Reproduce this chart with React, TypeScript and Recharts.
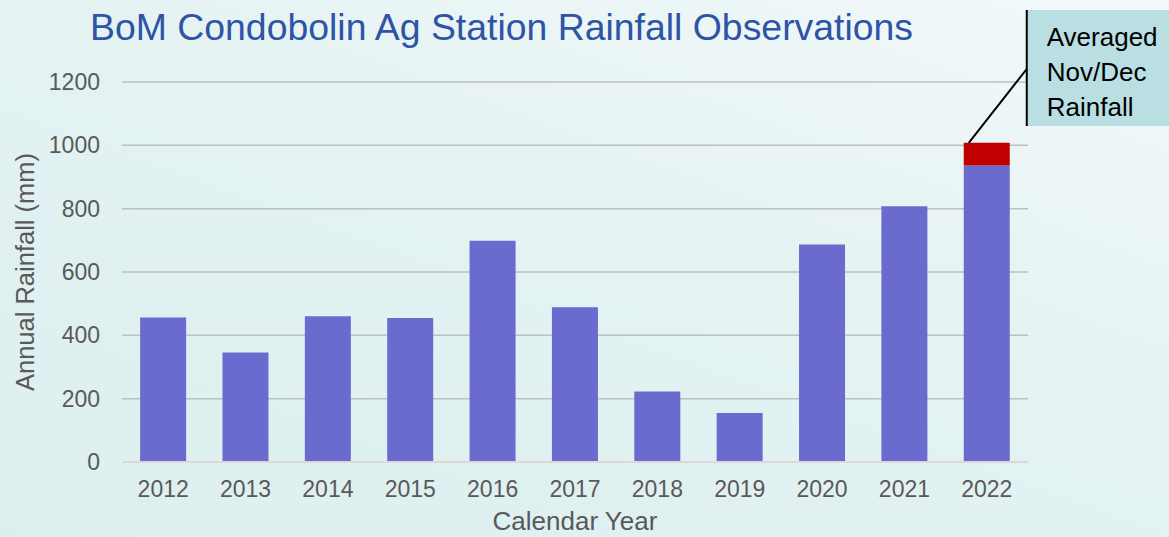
import { BarChart, Bar, XAxis, YAxis, CartesianGrid, Rectangle } from "recharts";

const years = ["2012", "2013", "2014", "2015", "2016", "2017", "2018", "2019", "2020", "2021", "2022"];
const annualRain = [456, 346, 460, 455, 699, 489, 223, 155, 687, 808, 936];
const novDecAvg = [0, 0, 0, 0, 0, 0, 0, 0, 0, 0, 72];
const yTicks = [0, 200, 400, 600, 800, 1000, 1200];
const calloutLines = ["Averaged", "Nov/Dec", "Rainfall"];

const data = years.map((year, i) => ({ year, rain: annualRain[i], extra: novDecAvg[i] }));

const FONT = "'Liberation Sans', Arial, sans-serif";
const GREY = "#595959";

function YLabel(props: any) {
  const vb = props.viewBox || {};
  const cy = vb.y + vb.height / 2;
  return (
    <text
      x={25}
      y={cy}
      transform={`rotate(-90, 25, ${cy})`}
      textAnchor="middle"
      dominantBaseline="central"
      fill={GREY}
      fontSize={25.5}
      fontFamily={FONT}
    >
      Annual Rainfall (mm)
    </text>
  );
}

// red segment, plus the callout box hooked onto it
function ExtraShape(props: any) {
  const { x, y, width, height } = props;
  if (!height || height <= 0) return null;
  const bx = x + width + 17;
  const by = 10;
  return (
    <g>
      <Rectangle x={x} y={y} width={width} height={height} fill="#c00000" />
      <rect x={bx} y={by} width={150} height={116} fill="#b9dfe2" />
      <line x1={bx} y1={by} x2={bx} y2={by + 116} stroke="#000" strokeWidth={2} />
      <line x1={x + 5} y1={y} x2={bx} y2={69} stroke="#000" strokeWidth={2} />
      {calloutLines.map((t, i) => (
        <text key={t} x={bx + 20} y={by + 36 + i * 35} fontSize={26} fontFamily={FONT} fill="#000">
          {t}
        </text>
      ))}
    </g>
  );
}

export default function App() {
  return (
    <div
      style={{
        position: "absolute",
        left: 0,
        top: 0,
        width: 1169,
        height: 537,
        overflow: "hidden",
        background: "linear-gradient(200deg, #f3f9fa 0%, #e4f2f2 45%, #dcefef 100%)",
        fontFamily: FONT,
      }}
    >
      <div
        style={{
          position: "absolute",
          left: 90,
          top: 9,
          fontSize: 37.4,
          lineHeight: "37px",
          color: "#2e54a5",
          whiteSpace: "nowrap",
        }}
      >
        BoM Condobolin Ag Station Rainfall Observations
      </div>
      <BarChart
        width={1169}
        height={537}
        data={data}
        margin={{ top: 82, right: 141, bottom: 0, left: 0 }}
        barCategoryGap="22%"
        style={{ position: "absolute", left: 0, top: 0 }}
      >
        <CartesianGrid vertical={false} stroke="#bfbfbf" strokeWidth={1.5} />
        <XAxis
          dataKey="year"
          height={75}
          tickSize={0}
          tickMargin={19}
          axisLine={{ stroke: "#d9d9d9", strokeWidth: 2 }}
          tick={{ fill: GREY, fontSize: 23, fontFamily: FONT }}
          label={{ value: "Calendar Year", position: "insideBottom", offset: 7, fill: GREY, fontSize: 26, fontFamily: FONT }}
        />
        <YAxis
          width={122}
          domain={[0, 1200]}
          ticks={yTicks}
          interval={0}
          axisLine={false}
          tickSize={0}
          tickMargin={22}
          tick={{ fill: GREY, fontSize: 23, fontFamily: FONT }}
          label={<YLabel />}
        />
        <Bar dataKey="rain" stackId="a" fill="#6b6bcf" isAnimationActive={false} />
        <Bar dataKey="extra" stackId="a" fill="#c00000" shape={<ExtraShape />} isAnimationActive={false} />
      </BarChart>
    </div>
  );
}
